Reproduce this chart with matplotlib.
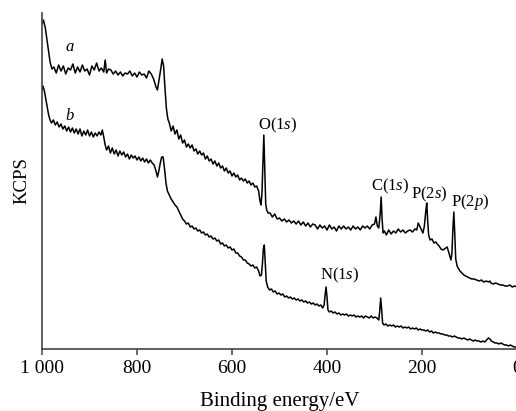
import matplotlib
matplotlib.use("Agg")
import matplotlib.pyplot as plt

plt.rcParams['font.family'] = ['Liberation Serif', 'DejaVu Serif']
plt.rcParams['mathtext.fontset'] = 'custom'
plt.rcParams['mathtext.rm'] = 'Liberation Serif'
plt.rcParams['mathtext.it'] = 'Liberation Serif:italic'

# Binding energy (eV) and intensity (KCPS, arbitrary units) for spectrum a
energy_a = [1000, 997, 993, 988, 983, 979, 975, 970, 965, 960, 955, 950, 945, 940, 935, 930,
            925, 920, 915, 910, 905, 900, 895, 890, 885, 880, 875, 870, 867, 864, 860, 855,
            850, 845, 840, 835, 830, 825, 820, 815, 810, 805, 800, 795, 790, 785, 780, 775,
            770, 765, 760, 757, 754, 750, 747, 744, 741, 738, 735, 732, 728, 724, 720, 716,
            712, 708, 704, 700, 696, 692, 688, 684, 680, 676, 672, 668, 664, 660, 656, 652,
            648, 644, 640, 636, 632, 628, 624, 620, 616, 612, 608, 604, 600, 596, 592, 588,
            584, 580, 576, 572, 568, 564, 560, 556, 552, 548, 544, 541, 539, 537, 535, 533,
            531, 529, 527, 524, 520, 515, 510, 505, 500, 495, 490, 485, 480, 475, 470, 465,
            460, 455, 450, 445, 440, 435, 430, 425, 420, 415, 410, 405, 400, 395, 390, 385,
            380, 375, 370, 365, 360, 355, 350, 345, 340, 335, 330, 325, 320, 315, 310, 305,
            300, 297, 294, 291, 288, 286, 284, 282, 279, 275, 270, 265, 260, 255, 250, 245,
            240, 235, 230, 225, 220, 215, 211, 208, 205, 201, 198, 195, 192, 190, 188, 186,
            183, 179, 175, 171, 168, 164, 160, 156, 150, 147, 144, 141, 139, 137, 135, 133,
            131, 129, 126, 124, 120, 116, 112, 108, 104, 100, 95, 90, 85, 80, 75, 70,
            65, 60, 57, 55, 50, 45, 40, 35, 30, 25, 20, 15, 10, 5, 0]
kcps_a = [32.5, 32.9, 32.1, 30.4, 28.7, 28.0, 28.2, 27.6, 28.4, 27.8, 28.3, 27.5, 28.1, 27.9, 28.5, 27.6,
          28.2, 27.7, 28.4, 27.8, 28.0, 27.4, 28.3, 27.9, 28.6, 27.8, 28.1, 27.7, 28.9, 27.6, 28.0, 27.9,
          27.5, 27.8, 27.4, 27.7, 27.3, 27.6, 27.5, 27.8, 27.3, 27.6, 27.2, 27.7, 27.4, 27.5, 27.1, 27.8,
          27.5, 27.0, 26.2, 25.9, 26.8, 28.0, 29.0, 28.3, 26.0, 24.0, 23.0, 22.6, 21.8, 22.3, 21.5, 21.9,
          21.0, 21.4, 20.6, 20.9, 20.2, 20.5, 20.1, 20.4, 19.8, 20.0, 19.5, 19.8, 19.4, 19.6, 19.0, 19.3,
          18.8, 19.0, 18.5, 18.8, 18.3, 18.6, 18.1, 18.3, 17.8, 18.1, 17.6, 17.8, 17.3, 17.6, 17.2, 17.4,
          16.9, 17.1, 16.8, 17.0, 16.6, 16.8, 16.4, 16.6, 16.2, 16.3, 15.8, 14.8, 14.4, 15.5, 18.5, 21.4,
          18.0, 14.5, 13.9, 13.6, 13.6, 13.2, 13.5, 13.0, 13.1, 12.8, 13.0, 12.7, 12.9, 12.6, 12.8, 12.5,
          12.8, 12.4, 12.7, 12.3, 12.6, 12.2, 12.5, 12.4, 12.0, 12.4, 12.1, 12.3, 11.9, 12.4, 12.0, 12.2,
          11.8, 12.3, 12.0, 12.3, 12.0, 12.2, 11.9, 12.3, 12.0, 12.2, 11.9, 12.3, 12.1, 12.3, 12.0, 12.4,
          12.5, 13.2, 12.3, 12.1, 13.5, 15.2, 13.0, 11.6, 11.8, 11.4, 11.9, 11.5, 11.8, 11.6, 12.0, 11.7,
          11.9, 11.6, 11.8, 11.9, 11.7, 12.0, 11.9, 12.6, 12.3, 11.9, 11.6, 12.3, 13.8, 14.6, 12.8, 11.4,
          10.9, 11.0, 10.6, 10.7, 10.5, 10.3, 10.0, 9.9, 10.1, 10.2, 9.7, 9.2, 8.9, 9.6, 12.0, 13.7,
          11.5, 9.0, 8.3, 8.1, 7.8, 7.6, 7.4, 7.3, 7.2, 7.1, 7.0, 7.0, 6.9, 6.8, 6.9, 6.7,
          6.8, 6.7, 6.8, 6.6, 6.5, 6.6, 6.5, 6.4, 6.4, 6.3, 6.3, 6.4, 6.2, 6.3, 6.2]

# Binding energy (eV) and intensity (KCPS, arbitrary units) for spectrum b
energy_b = [1000, 998, 995, 992, 989, 986, 983, 980, 976, 972, 968, 964, 960, 956, 952, 948,
            944, 940, 936, 932, 928, 924, 920, 916, 912, 908, 904, 900, 896, 892, 888, 884,
            880, 876, 873, 870, 867, 864, 860, 856, 852, 848, 844, 840, 836, 832, 828, 824,
            820, 816, 812, 808, 804, 800, 796, 792, 788, 784, 780, 776, 772, 768, 764, 760,
            757, 754, 751, 748, 745, 742, 739, 736, 732, 728, 724, 720, 716, 712, 708, 704,
            700, 696, 692, 688, 684, 680, 676, 672, 668, 664, 660, 656, 652, 648, 644, 640,
            636, 632, 628, 624, 620, 616, 612, 608, 604, 600, 596, 592, 588, 584, 580, 576,
            572, 568, 564, 560, 556, 552, 548, 544, 541, 538, 536, 534, 532, 530, 528, 525,
            521, 517, 513, 509, 505, 501, 497, 493, 489, 485, 481, 477, 473, 469, 465, 461,
            457, 453, 449, 445, 441, 437, 433, 429, 425, 421, 417, 413, 409, 406, 404, 402,
            400, 398, 395, 391, 387, 383, 379, 375, 371, 367, 363, 359, 355, 351, 347, 343,
            339, 335, 331, 327, 323, 319, 315, 311, 307, 303, 299, 295, 291, 289, 287, 285,
            283, 280, 276, 272, 268, 264, 260, 256, 252, 248, 244, 240, 236, 232, 228, 224,
            220, 216, 212, 208, 204, 200, 196, 192, 188, 184, 180, 176, 172, 168, 164, 160,
            156, 152, 148, 144, 140, 136, 132, 128, 124, 120, 116, 112, 108, 104, 100, 96,
            92, 88, 84, 80, 76, 72, 68, 64, 60, 57, 54, 50, 46, 42, 38, 34,
            30, 26, 22, 18, 14, 10, 6, 2, 0]
kcps_b = [26.0, 26.3, 25.8, 25.0, 24.2, 23.4, 22.9, 22.6, 22.9, 22.4, 22.7, 22.2, 22.5, 22.0, 22.3, 21.8,
          22.2, 21.7, 22.1, 21.6, 22.0, 21.5, 22.0, 21.3, 21.8, 21.4, 21.9, 21.3, 21.7, 21.2, 21.6, 21.3,
          21.7, 21.4, 21.9, 21.2, 20.4, 19.9, 20.3, 19.6, 20.1, 19.5, 19.9, 19.3, 19.8, 19.4, 19.7, 19.2,
          19.5, 19.0, 19.4, 19.1, 19.3, 18.9, 19.2, 18.8, 19.1, 18.7, 19.0, 18.6, 18.9, 18.6, 18.4, 17.8,
          17.2, 17.8, 18.6, 19.2, 19.2, 18.0, 16.6, 15.8, 15.4, 15.0, 14.7, 14.4, 14.2, 13.8, 13.4, 13.0,
          12.8, 12.5, 12.6, 12.2, 12.3, 12.0, 12.1, 11.8, 11.9, 11.6, 11.7, 11.4, 11.5, 11.2, 11.3, 11.0,
          11.1, 10.8, 10.9, 10.5, 10.6, 10.3, 10.4, 10.1, 10.2, 9.9, 10.0, 9.6, 9.6, 9.3, 9.2, 8.9,
          8.9, 8.6, 8.5, 8.3, 8.4, 8.1, 8.2, 7.8, 7.3, 7.4, 8.5, 10.0, 10.4, 8.6, 6.8, 6.2,
          5.9, 6.0, 5.7, 5.8, 5.5, 5.6, 5.4, 5.5, 5.2, 5.3, 5.1, 5.2, 5.0, 5.1, 4.9, 5.0,
          4.8, 4.9, 4.7, 4.8, 4.6, 4.7, 4.5, 4.6, 4.4, 4.5, 4.3, 4.4, 4.1, 4.4, 5.4, 6.2,
          5.2, 3.9, 3.7, 3.8, 3.6, 3.7, 3.5, 3.6, 3.4, 3.5, 3.4, 3.5, 3.3, 3.4, 3.3, 3.4,
          3.2, 3.3, 3.2, 3.3, 3.1, 3.3, 3.2, 3.1, 3.3, 3.1, 3.2, 3.1, 2.9, 3.8, 5.1, 4.0,
          2.6, 2.4, 2.5, 2.3, 2.4, 2.3, 2.4, 2.2, 2.3, 2.2, 2.3, 2.1, 2.2, 2.1, 2.2, 2.0,
          2.1, 2.0, 2.1, 1.9, 2.0, 1.9, 1.9, 1.8, 1.9, 1.7, 1.8, 1.6, 1.7, 1.6, 1.6, 1.5,
          1.5, 1.4, 1.4, 1.3, 1.3, 1.2, 1.3, 1.2, 1.1, 1.1, 1.0, 1.1, 1.0, 0.9, 1.0, 0.9,
          0.8, 0.9, 0.8, 0.8, 0.7, 0.8, 0.7, 0.9, 1.1, 1.0, 0.8, 0.7, 0.6, 0.6, 0.5, 0.6,
          0.5, 0.4, 0.4, 0.3, 0.4, 0.3, 0.2, 0.2, 0.2]

tick_values = [1000, 800, 600, 400, 200, 0]
tick_labels = ['1 000', '800', '600', '400', '200', '0']

curve_labels = ['a', 'b']
curve_label_pos = [(941, 30.2), (943, 23.3)]

peak_labels = ['O(1$\\it{s}$)', 'C(1$\\it{s}$)', 'P(2$\\it{s}$)', 'P(2$\\it{p}$)', 'N(1$\\it{s}$)']
peak_label_pos = [(505, 22.4), (267, 16.3), (185, 15.5), (99, 14.7), (373, 7.4)]

fig = plt.figure(figsize=(5.16, 4.11), dpi=100)
ax = fig.add_axes([42/516, (411-349)/411, (517-42)/516, (349-13)/411])

ax.plot(energy_a, kcps_a, color='black', lw=1.1)
ax.plot(energy_b, kcps_b, color='black', lw=1.1)

ax.set_xlim(1000, 0)
ax.set_ylim(0, 33.6)
ax.set_xticks(tick_values)
ax.set_xticklabels(tick_labels, fontsize=14)
ax.set_yticks([])
ax.tick_params(axis='x', direction='out', length=4, width=1.1, pad=4, color='#444444')

for s in ['top', 'right']:
    ax.spines[s].set_visible(False)
for s in ['left', 'bottom']:
    ax.spines[s].set_linewidth(1.2)
    ax.spines[s].set_color('#444444')

ax.set_xlabel('Binding energy/eV', fontsize=15, labelpad=11)
ax.set_ylabel('KCPS', fontsize=13.5, labelpad=8)

for lab, (x, y) in zip(curve_labels, curve_label_pos):
    ax.text(x, y, lab, fontsize=12, style='italic', ha='center', va='center')
for lab, (x, y) in zip(peak_labels, peak_label_pos):
    ax.text(x, y, lab, fontsize=12, ha='center', va='center')

fig.savefig('out.png', dpi=100)
